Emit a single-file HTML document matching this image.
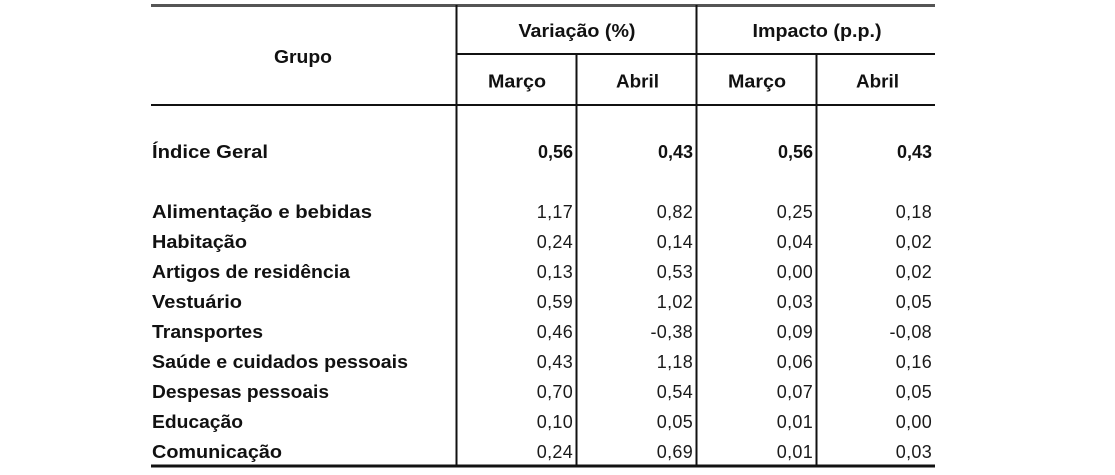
<!DOCTYPE html>
<html>
<head>
<meta charset="utf-8">
<style>
  html,body{margin:0;padding:0;background:#fff;}
  body{width:1115px;height:475px;overflow:hidden;}
  svg{display:block;}
  .b{font-family:"Liberation Sans",Arial,sans-serif;font-weight:bold;font-size:18px;fill:#111;}
  .n{font-family:"Liberation Sans",Arial,sans-serif;font-size:18px;fill:#1a1a1a;letter-spacing:0.3px;}
</style>
</head>
<body>
<svg width="1115" height="475" viewBox="0 0 1115 475" xmlns="http://www.w3.org/2000/svg">
  <!-- lines -->
  <rect x="151" y="4" width="784" height="3" fill="#555"/>
  <rect x="456" y="53" width="479" height="2" fill="#111"/>
  <rect x="151" y="104" width="784" height="2" fill="#111"/>
  <rect x="455.5" y="5" width="2" height="461" fill="#111"/>
  <rect x="575.5" y="54" width="2" height="412" fill="#111"/>
  <rect x="695.5" y="5" width="2" height="461" fill="#111"/>
  <rect x="815.5" y="54" width="2" height="412" fill="#111"/>
  <rect x="151" y="464.5" width="784" height="3" fill="#111"/>

  <!-- headers -->
  <text class="b" x="303" y="63" text-anchor="middle" textLength="58" lengthAdjust="spacingAndGlyphs">Grupo</text>
  <text class="b" x="577" y="37" text-anchor="middle" textLength="117" lengthAdjust="spacingAndGlyphs">Variação (%)</text>
  <text class="b" x="817" y="37" text-anchor="middle" textLength="129" lengthAdjust="spacingAndGlyphs">Impacto (p.p.)</text>
  <text class="b" x="517" y="87.5" text-anchor="middle" textLength="58" lengthAdjust="spacingAndGlyphs">Março</text>
  <text class="b" x="637.5" y="87.5" text-anchor="middle" textLength="43" lengthAdjust="spacingAndGlyphs">Abril</text>
  <text class="b" x="757" y="87.5" text-anchor="middle" textLength="58" lengthAdjust="spacingAndGlyphs">Março</text>
  <text class="b" x="877.5" y="87.5" text-anchor="middle" textLength="43" lengthAdjust="spacingAndGlyphs">Abril</text>

  <!-- Indice Geral -->
  <text class="b" x="152" y="158" textLength="116" lengthAdjust="spacingAndGlyphs">Índice Geral</text>
  <text class="b" x="573" y="158" text-anchor="end">0,56</text>
  <text class="b" x="693" y="158" text-anchor="end">0,43</text>
  <text class="b" x="813" y="158" text-anchor="end">0,56</text>
  <text class="b" x="932" y="158" text-anchor="end">0,43</text>

  <!-- rows -->
  <text class="b" x="152" y="218" textLength="220" lengthAdjust="spacingAndGlyphs">Alimentação e bebidas</text>
  <text class="n" x="573" y="218" text-anchor="end">1,17</text>
  <text class="n" x="693" y="218" text-anchor="end">0,82</text>
  <text class="n" x="813" y="218" text-anchor="end">0,25</text>
  <text class="n" x="932" y="218" text-anchor="end">0,18</text>

  <text class="b" x="152" y="248" textLength="95" lengthAdjust="spacingAndGlyphs">Habitação</text>
  <text class="n" x="573" y="248" text-anchor="end">0,24</text>
  <text class="n" x="693" y="248" text-anchor="end">0,14</text>
  <text class="n" x="813" y="248" text-anchor="end">0,04</text>
  <text class="n" x="932" y="248" text-anchor="end">0,02</text>

  <text class="b" x="152" y="278" textLength="198" lengthAdjust="spacingAndGlyphs">Artigos de residência</text>
  <text class="n" x="573" y="278" text-anchor="end">0,13</text>
  <text class="n" x="693" y="278" text-anchor="end">0,53</text>
  <text class="n" x="813" y="278" text-anchor="end">0,00</text>
  <text class="n" x="932" y="278" text-anchor="end">0,02</text>

  <text class="b" x="152" y="308" textLength="90" lengthAdjust="spacingAndGlyphs">Vestuário</text>
  <text class="n" x="573" y="308" text-anchor="end">0,59</text>
  <text class="n" x="693" y="308" text-anchor="end">1,02</text>
  <text class="n" x="813" y="308" text-anchor="end">0,03</text>
  <text class="n" x="932" y="308" text-anchor="end">0,05</text>

  <text class="b" x="152" y="338" textLength="111" lengthAdjust="spacingAndGlyphs">Transportes</text>
  <text class="n" x="573" y="338" text-anchor="end">0,46</text>
  <text class="n" x="693" y="338" text-anchor="end">-0,38</text>
  <text class="n" x="813" y="338" text-anchor="end">0,09</text>
  <text class="n" x="932" y="338" text-anchor="end">-0,08</text>

  <text class="b" x="152" y="368" textLength="256" lengthAdjust="spacingAndGlyphs">Saúde e cuidados pessoais</text>
  <text class="n" x="573" y="368" text-anchor="end">0,43</text>
  <text class="n" x="693" y="368" text-anchor="end">1,18</text>
  <text class="n" x="813" y="368" text-anchor="end">0,06</text>
  <text class="n" x="932" y="368" text-anchor="end">0,16</text>

  <text class="b" x="152" y="398" textLength="177" lengthAdjust="spacingAndGlyphs">Despesas pessoais</text>
  <text class="n" x="573" y="398" text-anchor="end">0,70</text>
  <text class="n" x="693" y="398" text-anchor="end">0,54</text>
  <text class="n" x="813" y="398" text-anchor="end">0,07</text>
  <text class="n" x="932" y="398" text-anchor="end">0,05</text>

  <text class="b" x="152" y="428" textLength="91" lengthAdjust="spacingAndGlyphs">Educação</text>
  <text class="n" x="573" y="428" text-anchor="end">0,10</text>
  <text class="n" x="693" y="428" text-anchor="end">0,05</text>
  <text class="n" x="813" y="428" text-anchor="end">0,01</text>
  <text class="n" x="932" y="428" text-anchor="end">0,00</text>

  <text class="b" x="152" y="458" textLength="130" lengthAdjust="spacingAndGlyphs">Comunicação</text>
  <text class="n" x="573" y="458" text-anchor="end">0,24</text>
  <text class="n" x="693" y="458" text-anchor="end">0,69</text>
  <text class="n" x="813" y="458" text-anchor="end">0,01</text>
  <text class="n" x="932" y="458" text-anchor="end">0,03</text>
</svg>
</body>
</html>
